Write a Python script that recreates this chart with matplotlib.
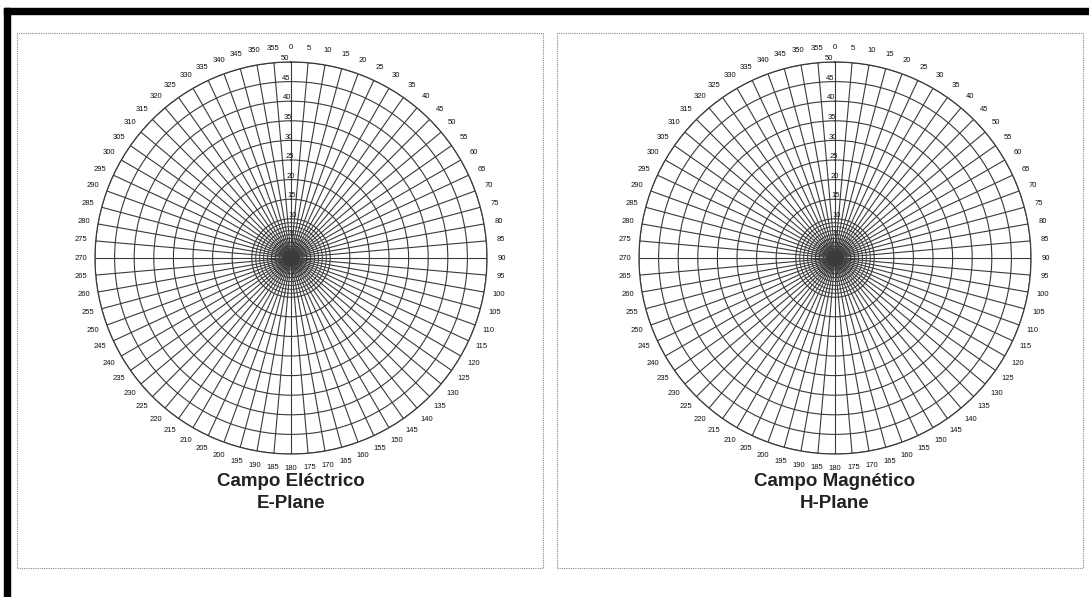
import numpy as np
import matplotlib.pyplot as plt
from matplotlib.patches import Rectangle

# angle ticks (degrees, clockwise from top) and ring values
angles = list(range(0, 360, 5))
angle_labels = [str(a) for a in angles]
rings = [5, 10, 15, 20, 25, 30, 35, 40, 45, 50]
ring_labels = [str(r) for r in rings]
inner_rings = [1, 2, 3, 4, 6, 7, 8, 9]
titles = [("Campo Eléctrico", "E-Plane"), ("Campo Magnético", "H-Plane")]
centers_x = [291, 835]

W, H = 1089, 597
fig = plt.figure(figsize=(W / 100, H / 100), dpi=100)
plt.rcParams['font.family'] = ['Liberation Sans', 'DejaVu Sans']

# black scan edges (top + left)
fig.patches.append(Rectangle((4 / W, 0), 6 / W, (H - 8) / H, transform=fig.transFigure,
                             color='black', zorder=5))
fig.patches.append(Rectangle((4 / W, (H - 14) / H), (W - 4) / W, 6 / H,
                             transform=fig.transFigure, color='black', zorder=5))

# dotted panel frames
for x0, x1 in [(17, 543), (557, 1083)]:
    fig.patches.append(Rectangle((x0 / W, (H - 568) / H), (x1 - x0) / W, (568 - 33) / H,
                                 transform=fig.transFigure, fill=False, edgecolor='#888888',
                                 lw=0.8, ls=(0, (1, 1))))

rad = 196
cy = 258
theta = np.linspace(0, 2 * np.pi, 400)
for (t1, t2), cx in zip(titles, centers_x):
    ax = fig.add_axes([(cx - rad) / W, (H - cy - rad) / H, 2 * rad / W, 2 * rad / H],
                      projection='polar')
    ax.set_theta_zero_location('N')
    ax.set_theta_direction(-1)
    ax.set_thetagrids(angles, angle_labels, fontsize=5.5, color='#111111')
    ax.set_rgrids(rings, ring_labels, fontsize=5.5, color='#111111')
    ax.set_rlabel_position(-3)
    ax.tick_params(axis='x', pad=0)
    ax.grid(True, color='#3a3a3a', lw=0.8)
    for r in inner_rings:
        ax.plot(theta, np.full_like(theta, r), color='#3a3a3a', lw=0.7)
    ax.set_ylim(0, 50)
    ax.spines['polar'].set_color('#3a3a3a')
    ax.spines['polar'].set_linewidth(0.9)
    fig.text(cx / W, (H - 481) / H, t1, ha='center', va='center', fontsize=13.5,
             fontweight='bold', color='#222222')
    fig.text(cx / W, (H - 503) / H, t2, ha='center', va='center', fontsize=13.5,
             fontweight='bold', color='#222222')

fig.savefig('out.png', dpi=100)
